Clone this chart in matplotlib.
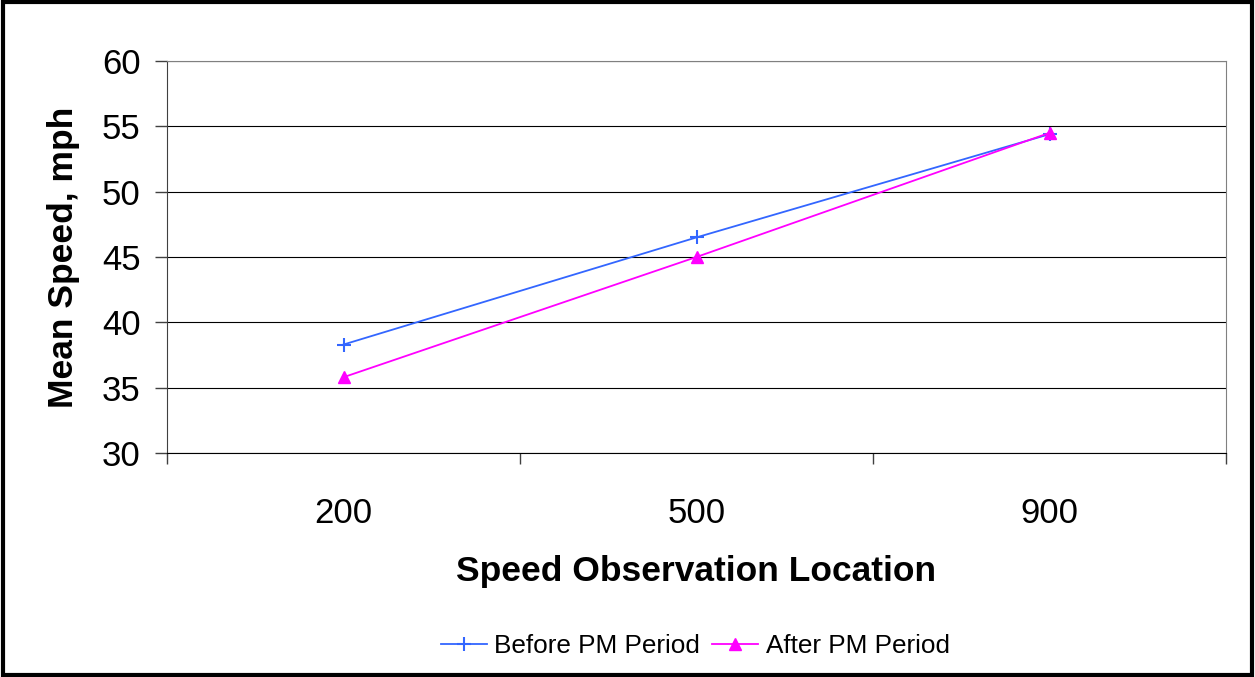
import matplotlib.pyplot as plt
from matplotlib.patches import Rectangle

plt.rcParams['font.family'] = ['Liberation Sans', 'DejaVu Sans']

locations = ['200', '500', '900']
before_pm = [38.3, 46.5, 54.4]
after_pm = [35.8, 45.0, 54.5]

fig = plt.figure(figsize=(12.55, 6.77), dpi=100)
ax = fig.add_axes([0.1331, 0.3309, 0.9769 - 0.1331, 0.9099 - 0.3309])

x = list(range(len(locations)))
ax.plot(x, before_pm, color='#3366FF', lw=1.3, marker='+', ms=10, mew=1.5,
        label='Before PM Period', zorder=3)
ax.plot(x, after_pm, color='#FF00FF', lw=1.3, marker='^', ms=9,
        label='After PM Period', zorder=3)

ax.set_ylim(30, 60)
ax.set_yticks(range(30, 61, 5))
ax.set_xlim(-0.5, len(locations) - 0.5)
ax.set_xticks([i - 0.5 for i in range(len(locations) + 1)])
ax.set_xticklabels([])
ax.set_xticks(x, minor=True)
ax.set_xticklabels(locations, minor=True)
ax.tick_params(axis='x', which='major', direction='out', length=8, width=1, color='#404040')
ax.tick_params(axis='x', which='minor', length=0, pad=32, labelsize=25)
ax.tick_params(axis='y', direction='out', length=9, width=1, color='#404040',
               labelsize=25, pad=10)

ax.yaxis.grid(True, color='black', lw=0.8)
ax.set_axisbelow(True)
for side in ['top', 'right']:
    ax.spines[side].set_color('#808080')
ax.spines['left'].set_color('#404040')
ax.spines['bottom'].set_color('black')

ax.set_ylabel('Mean Speed, mph', fontsize=25.5, fontweight='bold', labelpad=16)
ax.set_xlabel('Speed Observation Location', fontsize=25.5, fontweight='bold', labelpad=18)

fig.legend(loc='center', bbox_to_anchor=(0.554, 0.046), ncol=2, frameon=False,
           fontsize=18.8, handlelength=1.75, handletextpad=0.3, columnspacing=0.45)

fig.patches.append(Rectangle((0.002, 0.003), 0.996, 0.994, transform=fig.transFigure,
                             fill=False, edgecolor='black', lw=3))

fig.savefig('out.png', dpi=100)
